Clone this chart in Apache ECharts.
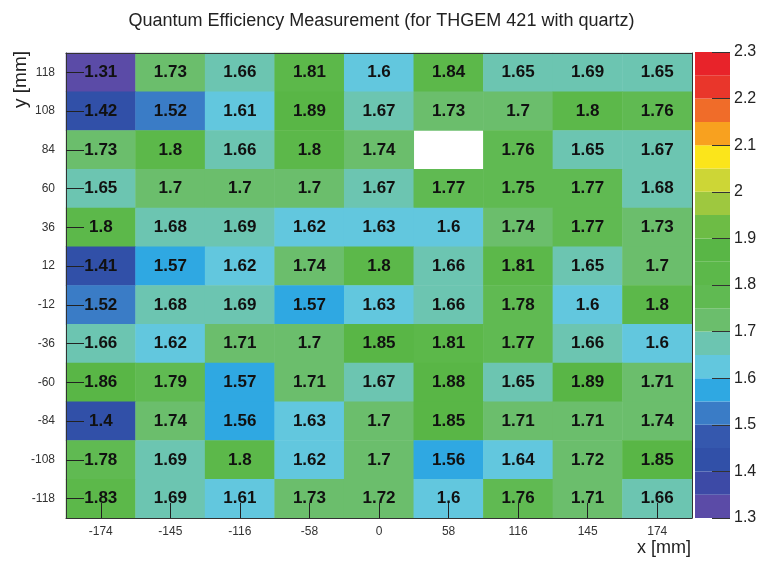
<!DOCTYPE html>
<html>
<head>
<meta charset="utf-8">
<title>Quantum Efficiency Measurement</title>
<script src="https://cdn.jsdelivr.net/npm/echarts@6/dist/echarts.min.js"></script>
<style>
  html, body { margin: 0; padding: 0; background: #fff; }
  #chart { width: 763px; height: 564px; }
</style>
</head>
<body>
<div id="chart"></div>
<script>
// Pad positions (mm)
const xLabels = ['-174', '-145', '-116', '-58', '0', '58', '116', '145', '174'];
// rows listed from top (y = 118) to bottom (y = -118)
const yLabels = ['118', '108', '84', '60', '36', '12', '-12', '-36', '-60', '-84', '-108', '-118'];

// Measured quantum efficiency, one row per y position; null = no measurement
const row118  = [1.31, 1.73, 1.66, 1.81, 1.6,  1.84, 1.65, 1.69, 1.65];
const row108  = [1.42, 1.52, 1.61, 1.89, 1.67, 1.73, 1.7,  1.8,  1.76];
const row84   = [1.73, 1.8,  1.66, 1.8,  1.74, null, 1.76, 1.65, 1.67];
const row60   = [1.65, 1.7,  1.7,  1.7,  1.67, 1.77, 1.75, 1.77, 1.68];
const row36   = [1.8,  1.68, 1.69, 1.62, 1.63, 1.6,  1.74, 1.77, 1.73];
const row12   = [1.41, 1.57, 1.62, 1.74, 1.8,  1.66, 1.81, 1.65, 1.7];
const rowM12  = [1.52, 1.68, 1.69, 1.57, 1.63, 1.66, 1.78, 1.6,  1.8];
const rowM36  = [1.66, 1.62, 1.71, 1.7,  1.85, 1.81, 1.77, 1.66, 1.6];
const rowM60  = [1.86, 1.79, 1.57, 1.71, 1.67, 1.88, 1.65, 1.89, 1.71];
const rowM84  = [1.4,  1.74, 1.56, 1.63, 1.7,  1.85, 1.71, 1.71, 1.74];
const rowM108 = [1.78, 1.69, 1.8,  1.62, 1.7,  1.56, 1.64, 1.72, 1.85];
const rowM118 = [1.83, 1.69, 1.61, 1.73, 1.72, 1.6,  1.76, 1.71, 1.66];
const rows = [row118, row108, row84, row60, row36, row12, rowM12, rowM36, rowM60, rowM84, rowM108, rowM118];

// Contour levels of the colour scale and the colour of each band (low to high)
const levelEdges = [1.30, 1.35, 1.40, 1.45, 1.50, 1.55, 1.60, 1.65, 1.70, 1.75, 1.80,
                    1.85, 1.90, 1.95, 2.00, 2.05, 2.10, 2.15, 2.20, 2.25, 2.30];
const palette = ['#5b4ba7', '#3d4aa6', '#3150a8', '#3558ae', '#3a7cc6', '#2fa8e2', '#62c7de',
                 '#6cc5b1', '#6bbe6c', '#60ba52', '#5cb84a', '#59b646', '#6dbc45', '#9ec83f',
                 '#cdd636', '#fbe51b', '#f8a11f', '#f06c29', '#e9362b', '#e8232a'];

const FONT = '"Liberation Sans", Arial, Helvetica, sans-serif';
const yAxisData = yLabels.slice().reverse();

const cells = [];
rows.forEach((row, r) => {
  row.forEach((v, c) => {
    if (v !== null) cells.push([c, yLabels.length - 1 - r, v]);
  });
});

const pieces = palette.map((color, i) => ({ gte: levelEdges[i], lt: levelEdges[i + 1], color }));
const bands = palette.map((color, i) => [levelEdges[i], levelEdges[i + 1]]);

const chart = echarts.init(document.getElementById('chart'), null, { renderer: 'canvas' });

chart.setOption({
  animation: false,
  backgroundColor: '#ffffff',
  textStyle: { fontFamily: FONT },
  title: {
    text: 'Quantum Efficiency Measurement (for THGEM 421 with quartz)',
    left: 'center',
    top: 7,
    textStyle: { fontFamily: FONT, fontSize: 18, fontWeight: 'normal', color: '#222' }
  },
  grid: [
    { left: 66, top: 53, width: 626, height: 465 },
    { left: 695, top: 52, width: 35, height: 466 }
  ],
  xAxis: [
    {
      gridIndex: 0, type: 'category', data: xLabels, position: 'bottom', z: 5,
      axisLine: { show: true, lineStyle: { color: '#333', width: 1 } },
      axisTick: { show: true, inside: true, alignWithLabel: true, length: 15, lineStyle: { color: '#222' } },
      axisLabel: { margin: 8, fontSize: 12, color: '#333', fontFamily: FONT },
      splitLine: { show: false }
    },
    {
      gridIndex: 0, type: 'category', data: xLabels, position: 'top', z: 5,
      axisLine: { show: true, lineStyle: { color: '#333', width: 1 } },
      axisTick: { show: false }, axisLabel: { show: false }, splitLine: { show: false }
    },
    { gridIndex: 1, type: 'value', min: 0, max: 1, show: false }
  ],
  yAxis: [
    {
      gridIndex: 0, type: 'category', data: yAxisData, position: 'left', z: 5,
      axisLine: { show: true, lineStyle: { color: '#333', width: 1 } },
      axisTick: { show: true, inside: true, alignWithLabel: true, length: 18, lineStyle: { color: '#222' } },
      axisLabel: { margin: 11, fontSize: 12, color: '#333', fontFamily: FONT },
      splitLine: { show: false }
    },
    {
      gridIndex: 0, type: 'category', data: yAxisData, position: 'right', z: 5,
      axisLine: { show: true, lineStyle: { color: '#333', width: 1 } },
      axisTick: { show: false }, axisLabel: { show: false }, splitLine: { show: false }
    },
    {
      gridIndex: 1, type: 'value', min: 1.3, max: 2.3, interval: 0.1, position: 'right', z: 5,
      axisLine: { show: false, onZero: false },
      axisTick: { show: true, inside: true, length: 18, lineStyle: { color: '#333' } },
      axisLabel: { margin: 4, fontSize: 16, color: '#222', fontFamily: FONT },
      splitLine: { show: false }
    }
  ],
  visualMap: {
    type: 'piecewise',
    show: false,
    dimension: 2,
    seriesIndex: 0,
    pieces: pieces
  },
  graphic: [
    {
      type: 'text', x: 21, y: 51, rotation: Math.PI / 2,
      style: { text: 'y [mm]', font: '19px ' + FONT, fill: '#222', align: 'right', verticalAlign: 'middle' }
    },
    {
      type: 'text', x: 691, y: 548,
      style: { text: 'x [mm]', font: '18px ' + FONT, fill: '#222', align: 'right', verticalAlign: 'middle' }
    }
  ],
  series: [
    {
      type: 'heatmap',
      xAxisIndex: 0,
      yAxisIndex: 0,
      data: cells,
      label: {
        show: true,
        formatter: p => String(p.value[2]),
        fontFamily: FONT,
        fontSize: 17,
        fontWeight: 'bold',
        color: '#111'
      },
      itemStyle: { borderWidth: 0 },
      emphasis: { disabled: true }
    },
    {
      type: 'custom',
      xAxisIndex: 2,
      yAxisIndex: 2,
      data: bands,
      renderItem: (params, api) => {
        const lo = api.value(0);
        const hi = api.value(1);
        const p0 = api.coord([0, hi]);
        const p1 = api.coord([1, lo]);
        return {
          type: 'rect',
          shape: { x: p0[0], y: p0[1], width: p1[0] - p0[0], height: p1[1] - p0[1] },
          style: { fill: palette[params.dataIndex] }
        };
      },
      encode: { x: -1, y: [0, 1] },
      silent: true
    }
  ]
});
</script>
</body>
</html>
